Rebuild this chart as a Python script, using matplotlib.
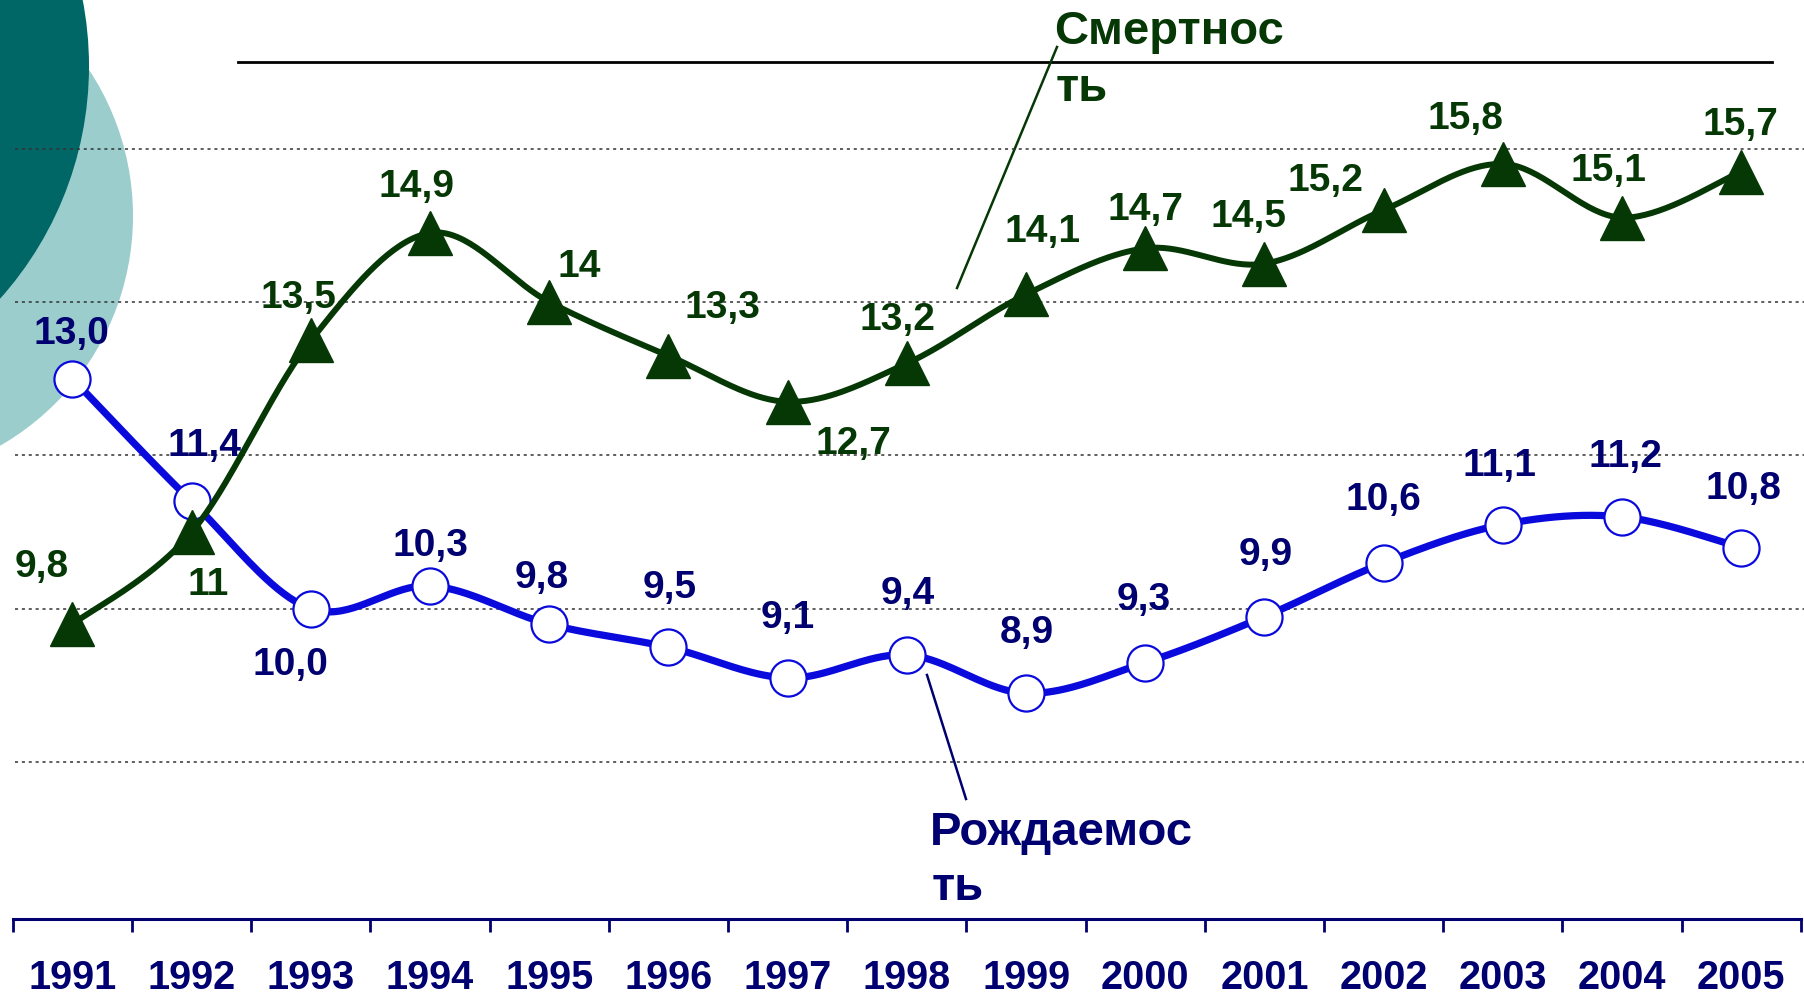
import numpy as np
import matplotlib
matplotlib.use("Agg")
import matplotlib.pyplot as plt
from matplotlib.patches import Circle

plt.rcParams['font.family'] = ['Liberation Sans', 'DejaVu Sans']

# ---- data -------------------------------------------------------------
years = [1991, 1992, 1993, 1994, 1995, 1996, 1997, 1998,
         1999, 2000, 2001, 2002, 2003, 2004, 2005]
birth = [13.0, 11.4, 10.0, 10.3, 9.8, 9.5, 9.1, 9.4,
         8.9, 9.3, 9.9, 10.6, 11.1, 11.2, 10.8]
death = [9.8, 11, 13.5, 14.9, 14, 13.3, 12.7, 13.2,
         14.1, 14.7, 14.5, 15.2, 15.8, 15.1, 15.7]
birth_labels = ["13,0", "11,4", "10,0", "10,3", "9,8", "9,5", "9,1", "9,4",
                "8,9", "9,3", "9,9", "10,6", "11,1", "11,2", "10,8"]
death_labels = ["9,8", "11", "13,5", "14,9", "14", "13,3", "12,7", "13,2",
                "14,1", "14,7", "14,5", "15,2", "15,8", "15,1", "15,7"]
grid_levels = [8, 10, 12, 14, 16]

# label offsets from the marker (pixels, +y up)
birth_off = [(-1, 46), (13, 56), (-20, -55), (0, 41), (-8, 47), (1, 60), (0, 61),
             (1, 62), (1, 61), (-2, 64), (1, 63), (0, 64), (-3, 60), (3, 61), (2, 60)]
death_off = [(-31, 58), (17, -52), (-12, 43), (-14, 47), (30, 36), (54, 49), (66, -41),
             (-9, 44), (16, 63), (0, 39), (-16, 48), (-58, 30), (-37, 46), (-14, 48), (-1, 48)]

BLUE = '#0A0ADD'
NAVY = '#000070'
GREEN = '#063806'
W, H = 1804, 995

fig = plt.figure(figsize=(W / 100, H / 100), dpi=100)

# pixel-space background layer (decoration, captions)
bg = fig.add_axes([0, 0, 1, 1], zorder=0)
bg.set_xlim(0, W)
bg.set_ylim(H, 0)
bg.axis('off')
bg.add_patch(Circle((-132, 217), 265, color='#9BCDCD', lw=0))
bg.add_patch(Circle((-260, 67), 349, color='#006666', lw=0))
bg.plot([238, 1772], [63, 63], color='black', lw=2)

# pointer lines and series captions
bg.plot([1057, 957], [48, 289], color=GREEN, lw=1.8)
bg.text(1054, 32, "Смертнос", color=GREEN, fontsize=34, fontweight='bold', va='center')
bg.text(1056, 89, "ть", color=GREEN, fontsize=34, fontweight='bold', va='center')
bg.plot([927, 966], [676, 800], color=NAVY, lw=1.8)
bg.text(930, 833, "Рождаемос", color=NAVY, fontsize=34, fontweight='bold', va='center')
bg.text(932, 888, "ть", color=NAVY, fontsize=34, fontweight='bold', va='center')

# data layer
ax = fig.add_axes([0, 0, 1, 1], zorder=1)
ax.patch.set_alpha(0)
ax.set_xlim(-0.608, 14.526)
ax.set_ylim(4.98, 17.95)
for s in ['top', 'right', 'left']:
    ax.spines[s].set_visible(False)
ax.spines['bottom'].set_position(('data', 5.96))
ax.spines['bottom'].set_bounds(-0.5, len(years) - 0.5)
ax.spines['bottom'].set_color(NAVY)
ax.spines['bottom'].set_linewidth(2.2)
ax.set_yticks([])
ax.set_xticks(np.arange(-0.5, len(years), 1.0))
ax.set_xticklabels([])
ax.tick_params(axis='x', which='major', direction='out', length=9, width=2, color=NAVY)
ax.set_xticks(np.arange(len(years)), minor=True)
ax.set_xticklabels([str(y) for y in years], minor=True)
ax.tick_params(axis='x', which='minor', length=0, pad=28, labelsize=28.5, labelcolor=NAVY)
for lbl in ax.get_xticklabels(minor=True):
    lbl.set_fontweight('bold')

for g in grid_levels:
    ax.axhline(g, xmin=15 / W, xmax=1, color='#333333', lw=1.1,
               linestyle=(0, (2, 2.5)), zorder=1)


def smooth(xs, ys, n=40):
    """Catmull-Rom style smoothing computed in display space."""
    pts = ax.transData.transform(np.column_stack([xs, ys]))
    p = np.vstack([pts[0], pts, pts[-1]])
    out = []
    t = np.linspace(0, 1, n)[:, None]
    for i in range(1, len(p) - 2):
        p0, p1, p2, p3 = p[i - 1], p[i], p[i + 1], p[i + 2]
        c1 = p1 + (p2 - p0) / 6
        c2 = p2 - (p3 - p1) / 6
        seg = ((1 - t) ** 3) * p1 + 3 * ((1 - t) ** 2) * t * c1 + 3 * (1 - t) * t ** 2 * c2 + t ** 3 * p2
        out.append(seg if i == 1 else seg[1:])
    out = np.vstack(out)
    return ax.transData.inverted().transform(out).T


x = np.arange(len(years))

bx, by = smooth(x, birth)
ax.plot(bx, by, color=BLUE, lw=5.2, zorder=3, solid_capstyle='round')
ax.plot(x, birth, linestyle='none', marker='o', ms=26, mfc='white',
        mec=BLUE, mew=1.6, zorder=4)

dx, dy = smooth(x, death)
ax.plot(dx, dy, color=GREEN, lw=4.3, zorder=5, solid_capstyle='round')
ax.plot(x, death, linestyle='none', marker='^', ms=32, color=GREEN, zorder=6)

for xi, v, lab, off in zip(x, birth, birth_labels, birth_off):
    ax.annotate(lab, (xi, v), xytext=off, textcoords='offset pixels',
                ha='center', va='center', fontsize=28, fontweight='bold',
                color=NAVY, zorder=7)
for xi, v, lab, off in zip(x, death, death_labels, death_off):
    ax.annotate(lab, (xi, v), xytext=off, textcoords='offset pixels',
                ha='center', va='center', fontsize=28, fontweight='bold',
                color=GREEN, zorder=7)

fig.savefig("out.png", dpi=100)
